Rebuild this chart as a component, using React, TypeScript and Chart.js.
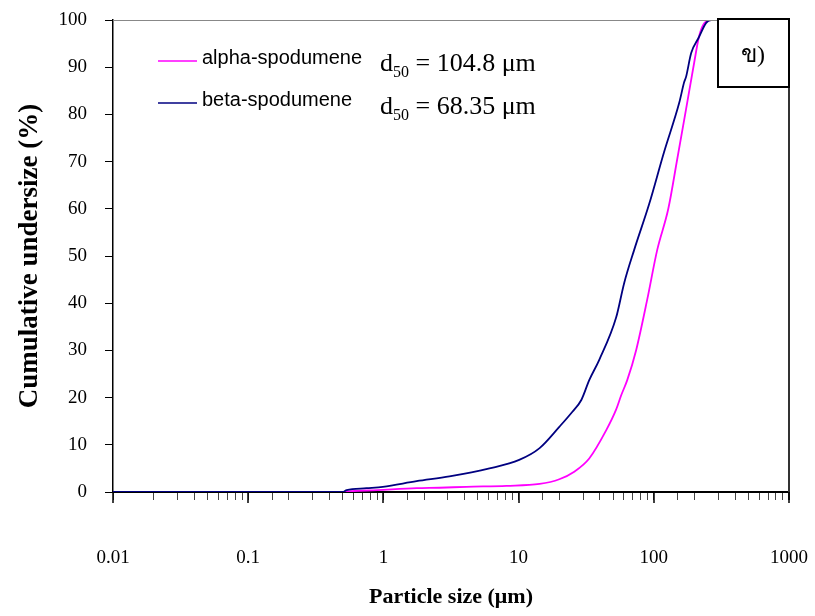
import React, { useEffect, useRef } from 'react';
import { Chart, registerables } from 'chart.js';

Chart.register(...registerables);

const SERIF = "'Times New Roman', 'Liberation Serif', Times, serif";
const SANS = "Arial, 'Liberation Sans', Helvetica, sans-serif";

// ---- data ----
const seriesNames = ['alpha-spodumene', 'beta-spodumene'];
const d50Values = ['104.8', '68.35'];
const panelLabel = 'ข)';

const betaSizes = [0.01, 0.5, 0.535, 0.75, 0.99, 1.76, 3.08, 6.09, 10.1, 14.3, 20.0, 25.0, 29.1, 33.3, 39.5, 52.7, 60.4, 71.6, 92.4, 119, 154, 168, 173, 189, 216, 244, 266, 1000];
const betaValues = [0, 0, 0.4, 0.8, 1.1, 2.3, 3.3, 5.0, 6.8, 9.3, 13.8, 17, 19.5, 23.7, 28, 37, 44.3, 51.3, 61, 72, 82.4, 86.9, 87.9, 93, 96.4, 99.4, 100, 100];

const alphaSizes = [0.01, 0.5, 0.535, 0.906, 1.76, 2.6, 4.11, 8.13, 14.3, 20.0, 25.8, 33.3, 44.5, 52.7, 57.4, 63.6, 74.1, 89.3, 106, 128, 149, 173, 199, 216, 236, 266, 1000];
const alphaValues = [0, 0, 0.1, 0.4, 0.8, 0.9, 1.1, 1.3, 1.7, 2.7, 4.3, 7.1, 13.1, 17.5, 20.5, 23.7, 30.1, 40.7, 51.3, 60, 70.5, 81, 91, 96.5, 99.3, 100, 100];

const xTickLabels = ['0.01', '0.1', '1', '10', '100', '1000'];
const yTickStep = 10;
const xTitle = 'Particle size (μm)';
const yTitle = 'Cumulative undersize (%)';

const ALPHA_COLOR = '#FF00FF';
const BETA_COLOR = '#000080';

function isMajor(v: number) {
  return xTickLabels.some((s) => Math.abs(parseFloat(s) - v) < 1e-6 * v);
}

export default function App() {
  const ref = useRef<HTMLCanvasElement>(null);

  useEffect(() => {
    document.body.style.margin = '0';
    const canvas = ref.current!;

    const overlay = {
      id: 'overlay',
      afterDraw(chart: any) {
        const { ctx, chartArea } = chart;
        const xs = chart.scales.x;
        ctx.save();
        // top and right frame lines
        ctx.strokeStyle = '#888';
        ctx.lineWidth = 1;
        ctx.beginPath();
        ctx.moveTo(chartArea.left, chartArea.top + 0.5);
        ctx.lineTo(chartArea.right, chartArea.top + 0.5);
        ctx.stroke();
        ctx.strokeStyle = '#333';
        ctx.lineWidth = 2;
        ctx.beginPath();
        ctx.moveTo(chartArea.right, chartArea.top);
        ctx.lineTo(chartArea.right, chartArea.bottom + 8);
        ctx.stroke();

        // major ticks longer
        ctx.strokeStyle = '#000';
        ctx.lineWidth = 1.5;
        xTickLabels.forEach((s) => {
          const px = Math.round(xs.getPixelForValue(parseFloat(s)));
          ctx.beginPath();
          ctx.moveTo(px, chartArea.bottom);
          ctx.lineTo(px, chartArea.bottom + 11);
          ctx.stroke();
        });

        // legend
        const legendRows = [
          { name: seriesNames[0], color: ALPHA_COLOR, y: 61, d50: d50Values[0], base: 71 },
          { name: seriesNames[1], color: BETA_COLOR, y: 103, d50: d50Values[1], base: 114 },
        ];
        legendRows.forEach((r) => {
          ctx.strokeStyle = r.color;
          ctx.lineWidth = 1.5;
          ctx.beginPath();
          ctx.moveTo(158, r.y);
          ctx.lineTo(197, r.y);
          ctx.stroke();
          ctx.fillStyle = '#000';
          ctx.font = `20px ${SANS}`;
          ctx.textAlign = 'left';
          ctx.textBaseline = 'middle';
          ctx.fillText(r.name, 202, r.y - 3);

          ctx.textBaseline = 'alphabetic';
          let x = 380;
          ctx.font = `26px ${SERIF}`;
          ctx.fillText('d', x, r.base);
          x += ctx.measureText('d').width;
          ctx.font = `16px ${SERIF}`;
          ctx.fillText('50', x, r.base + 6);
          x += ctx.measureText('50').width;
          ctx.font = `26px ${SERIF}`;
          ctx.fillText(` = ${r.d50} μm`, x, r.base);
        });

        // panel label box
        const bx = chartArea.right - 71;
        const by = chartArea.top - 1;
        ctx.fillStyle = '#fff';
        ctx.fillRect(bx, by, 71, 68);
        ctx.strokeStyle = '#000';
        ctx.lineWidth = 2;
        ctx.strokeRect(bx, by, 71, 68);
        ctx.fillStyle = '#000';
        ctx.font = `24px ${SERIF}`;
        ctx.textAlign = 'center';
        ctx.textBaseline = 'middle';
        ctx.fillText(panelLabel, bx + 35, by + 37);
        ctx.restore();
      },
    };

    const chart = new Chart(canvas, {
      type: 'line',
      data: {
        datasets: [
          {
            label: seriesNames[1],
            data: betaSizes.map((s, i) => ({ x: s, y: betaValues[i] })),
            borderColor: BETA_COLOR,
            borderWidth: 1.8,
            pointRadius: 0,
            cubicInterpolationMode: 'monotone',
          },
          {
            label: seriesNames[0],
            data: alphaSizes.map((s, i) => ({ x: s, y: alphaValues[i] })),
            borderColor: ALPHA_COLOR,
            borderWidth: 1.8,
            pointRadius: 0,
            cubicInterpolationMode: 'monotone',
          },
        ],
      },
      options: {
        animation: false,
        responsive: false,
        layout: { padding: { left: 0, top: 20, right: 26, bottom: 0 } },
        plugins: { legend: { display: false }, tooltip: { enabled: false } },
        scales: {
          x: {
            type: 'logarithmic',
            min: 0.01,
            max: 1000,
            afterFit: (scale: any) => {
              scale.height = 124;
              scale.paddingLeft = 0;
              scale.paddingRight = 0;
            },
            grid: {
              drawOnChartArea: false,
              drawTicks: true,
              tickLength: 8,
              tickColor: '#444',
              tickWidth: 1,
            },
            border: { display: true, color: '#000', width: 2 },
            ticks: {
              autoSkip: false,
              maxRotation: 0,
              minRotation: 0,
              padding: 47,
              color: '#000',
              font: { family: SERIF, size: 19 },
              callback: (value: any) => {
                const v = Number(value);
                if (!isMajor(v)) return '';
                return xTickLabels.find((s) => Math.abs(parseFloat(s) - v) < 1e-6 * v) ?? '';
              },
            },
            title: {
              display: true,
              text: xTitle,
              color: '#000',
              font: { family: SERIF, size: 22, weight: 'bold' },
              padding: { top: 0, bottom: 5 },
            },
          },
          y: {
            type: 'linear',
            min: 0,
            max: 100,
            afterFit: (scale: any) => {
              scale.width = 113;
              scale.paddingTop = 0;
              scale.paddingBottom = 0;
            },
            grid: {
              drawOnChartArea: false,
              drawTicks: true,
              tickLength: 8,
              tickColor: '#000',
            },
            border: { display: true, color: '#000', width: 1.5 },
            ticks: {
              stepSize: yTickStep,
              padding: 18,
              color: '#000',
              font: { family: SERIF, size: 19 },
            },
            title: {
              display: true,
              text: yTitle,
              color: '#000',
              font: { family: SERIF, size: 27, weight: 'bold' },
              padding: { top: 14, bottom: 0 },
            },
          },
        },
      },
      plugins: [overlay],
    } as any);

    return () => chart.destroy();
  }, []);

  return (
    <div style={{ width: 815, height: 616 }}>
      <canvas ref={ref} width={815} height={616} style={{ display: 'block' }} />
    </div>
  );
}
